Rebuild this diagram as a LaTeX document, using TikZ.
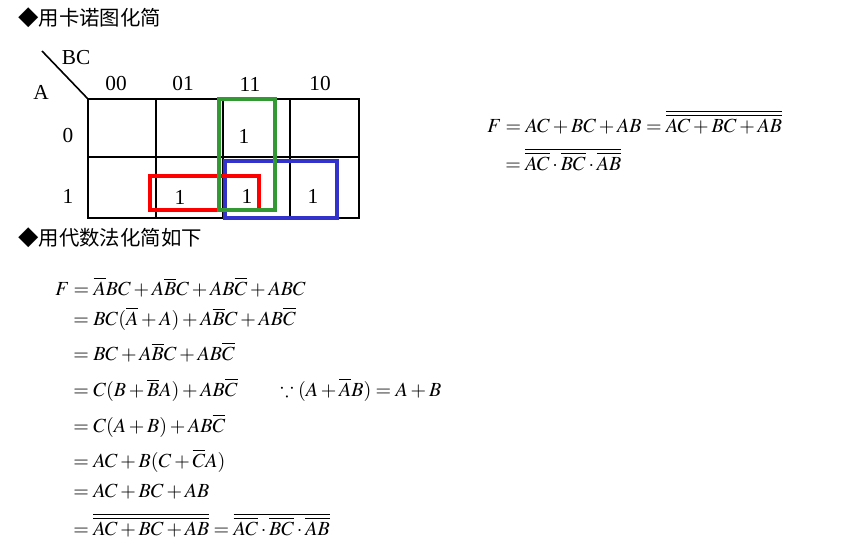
\documentclass[tikz,border=0pt]{standalone}
\usepackage{amsmath,amssymb}
\usepackage{mathptmx}
\usepackage[no-math]{fontspec}
\setmainfont{Liberation Serif}
\newfontfamily\cjk{Noto Sans CJK SC}
\usepackage{xcolor}
\usetikzlibrary{positioning}
\definecolor{kred}{RGB}{255,0,0}
\definecolor{kgreen}{RGB}{51,153,51}
\definecolor{kblue}{RGB}{51,51,204}
\tikzset{
  head/.style={anchor=west, font=\cjk\fontsize{15.3}{18}\selectfont, inner sep=0pt},
  lbl/.style={font=\fontsize{16}{18}\selectfont, inner sep=0pt},
  eqn/.style={anchor=base west, font=\fontsize{15}{18}\selectfont, inner sep=0pt},
  grid/.style={line width=1.5pt},
  grp/.style={line width=3.6pt},
}

\begin{document}
\begin{tikzpicture}[x=0.75pt, y=-0.75pt]
  \useasboundingbox (0,0) rectangle (864,550);
  % headings
  \node[head] (h1) at (18,18) {◆用卡诺图化简};
  \node[head] (h2) at (18,238) {◆用代数法化简如下};
  % karnaugh map
  \coordinate (tl) at (88,99);
  \coordinate (br) at (359,218);
  \draw[grid] (tl) rectangle (br);
  \draw[grid] (88,157) -- (359,157);
  \foreach \x in {156,223,290}
    \draw[grid] (\x,99) -- (\x,218);
  \coordinate (dg) at (42,51);
  \draw[line width=1.2pt] (dg) -- (tl);
  \node[lbl] (bc) at (76,58) {BC};
  \node[lbl] (a) at (41,92) {A};
  \foreach \x/\n/\l in {116/c0/00, 183/c1/01, 250/c2/11, 320/c3/10}
    \node[lbl] (\n) at (\x,84) {\l};
  \node[lbl] (r0) at (68,136) {0};
  \node[lbl] (r1) at (68,196) {1};
  \node[lbl] (m3) at (244,136) {1};
  \node[lbl] (m5) at (180,197) {1};
  \node[lbl] (m7) at (247,196) {1};
  \node[lbl] (m6) at (313,196) {1};
  % groups
  \draw[grp, kblue] (225,161) rectangle (337,218);
  \draw[grp, kred] (150,176) rectangle (259,210);
  \draw[grp, kgreen] (219,99) rectangle (275,210);
  % result beside the map
  \node[eqn] (f1) at (487,132) {$F = AC + BC + AB = \overline{\overline{AC + BC + AB}}$};
  \node[eqn] (f2) at (505,170) {$= \overline{\overline{AC}\cdot\overline{BC}\cdot\overline{AB}}$};
  % algebra
  \node[eqn] (e1) at (55,295) {$F = \overline{A}BC + A\overline{B}C + AB\overline{C} + ABC$};
  \node[eqn] (e2) at (73,325) {$= BC(\overline{A} + A) + A\overline{B}C + AB\overline{C}$};
  \node[eqn] (e3) at (73,360) {$= BC + A\overline{B}C + AB\overline{C}$};
  \node[eqn] (e4) at (73,396) {$= C(B + \overline{B}A) + AB\overline{C}$};
  \node[eqn] (why) at (280,396) {$\because (A + \overline{A}B) = A + B$};
  \node[eqn] (e5) at (73,432) {$= C(A + B) + AB\overline{C}$};
  \node[eqn] (e6) at (73,467) {$= AC + B(C + \overline{C}A)$};
  \node[eqn] (e7) at (73,497) {$= AC + BC + AB$};
  \node[eqn] (e8) at (73,535) {$= \overline{\overline{AC + BC + AB}} = \overline{\overline{AC}\cdot\overline{BC}\cdot\overline{AB}}$};
\end{tikzpicture}
\end{document}
